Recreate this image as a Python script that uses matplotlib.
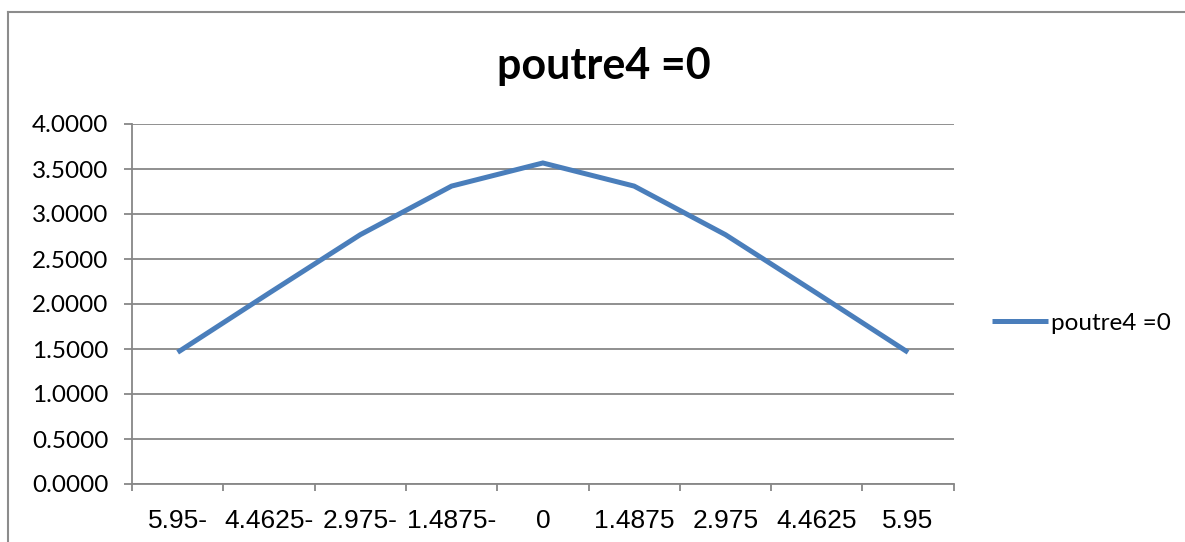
import matplotlib
matplotlib.use("Agg")
import matplotlib.pyplot as plt
from matplotlib.lines import Line2D
from matplotlib.ticker import FormatStrFormatter

# Data
categories = ["5.95-", "4.4625-", "2.975-", "1.4875-", "0",
              "1.4875", "2.975", "4.4625", "5.95"]
values = [1.463, 2.12, 2.77, 3.31, 3.567, 3.31, 2.77, 2.12, 1.463]
series_name = "poutre4 =0"
y_ticks = [0.0, 0.5, 1.0, 1.5, 2.0, 2.5, 3.0, 3.5, 4.0]

W, H, DPI = 1185, 542, 100
fig = plt.figure(figsize=(W / DPI, H / DPI), dpi=DPI)
fig.patch.set_facecolor("white")

line_color = "#4A7EBB"
grid_color = "#878787"
label_font = "Lato"
axis_font = "Liberation Sans"

# Plot area (pixel edges converted to figure fractions)
left, right, top, bottom = 132, 953.7, 124, 484
ax = fig.add_axes([left / W, 1 - bottom / H, (right - left) / W, (bottom - top) / H])

x = list(range(len(categories)))
ax.plot(x, values, color=line_color, lw=3.6, solid_capstyle="butt",
        solid_joinstyle="miter", zorder=3, label=series_name)

ax.set_xlim(-0.5, len(categories) - 0.5)
ax.set_ylim(0, 4)

# Y axis: gridlines and labels
ax.set_yticks(y_ticks)
ax.yaxis.set_major_formatter(FormatStrFormatter("%.4f"))
ax.grid(axis="y", color=grid_color, lw=1.3, zorder=1)
ax.tick_params(axis="y", length=6, width=1.3, color=grid_color, pad=11,
               labelsize=17.5, labelcolor="black")
for lab in ax.get_yticklabels():
    lab.set_fontfamily(label_font)

# X axis: ticks at band edges, labels at band centres
ax.set_xticks([i - 0.5 for i in range(len(categories) + 1)])
ax.set_xticklabels([])
ax.set_xticks(x, minor=True)
ax.set_xticklabels(categories, minor=True, fontfamily=axis_font, fontsize=19)
ax.tick_params(axis="x", which="major", length=5, width=1.3, color=grid_color)
ax.tick_params(axis="x", which="minor", length=0, pad=18, labelcolor="black")

for side in ("top", "right"):
    ax.spines[side].set_visible(False)
for side in ("left", "bottom"):
    ax.spines[side].set_color(grid_color)
    ax.spines[side].set_linewidth(1.3)

# Title
fig.text(604 / W, 1 - 79 / H, series_name, ha="center", va="baseline",
         fontsize=31, fontweight="bold", fontfamily=label_font)

# Legend
leg = fig.legend(handles=[Line2D([0], [0], color=line_color, lw=3.6,
                                 solid_capstyle="butt")],
                 labels=[series_name], loc="center left",
                 bbox_to_anchor=(991.7 / W, 1 - 323 / H),
                 frameon=False, fontsize=17.5, handlelength=2.3,
                 handletextpad=0.15, borderpad=0, borderaxespad=0)
for t in leg.get_texts():
    t.set_fontfamily(label_font)

# Chart frame
fig.add_artist(Line2D([8 / W, 8 / W], [0, 1 - 12 / H], transform=fig.transFigure,
                      color="#8c8c8c", lw=1.5))
fig.add_artist(Line2D([8 / W, 1], [1 - 12 / H, 1 - 12 / H], transform=fig.transFigure,
                      color="#8c8c8c", lw=1.5))

fig.savefig("out.png", dpi=DPI, facecolor="white")
